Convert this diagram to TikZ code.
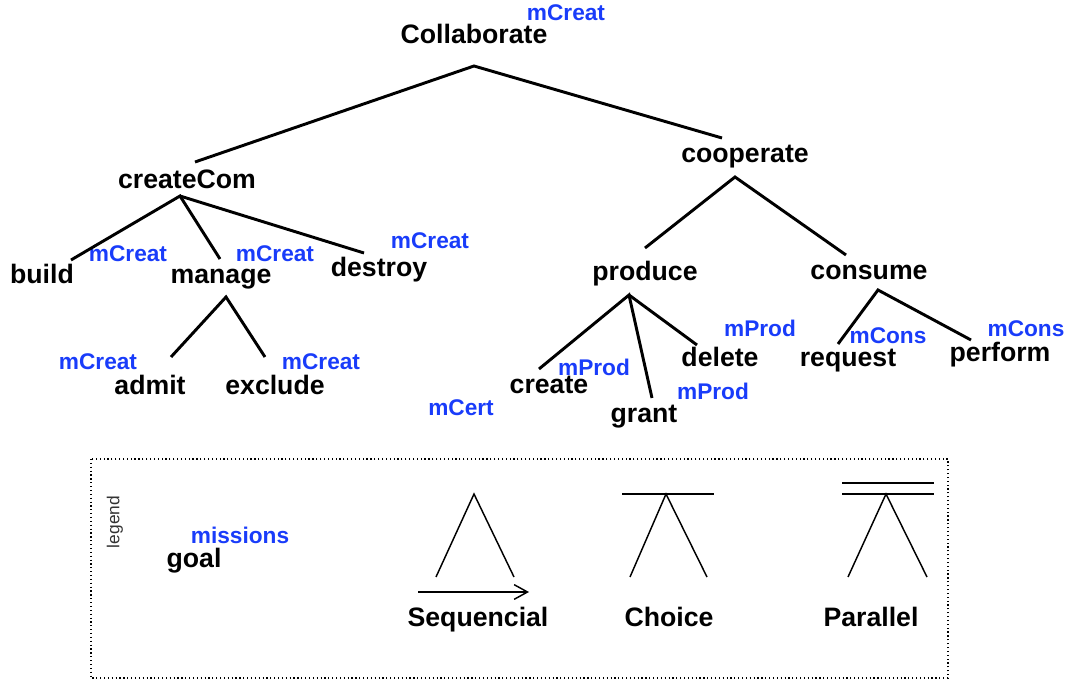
\documentclass[tikz,border=0pt]{standalone}
\usepackage{fontspec}
\setmainfont{Liberation Sans}
\usepackage{tikz}
\usepackage{xcolor}
\usetikzlibrary{positioning}
\usetikzlibrary{arrows.meta}
\definecolor{missionblue}{RGB}{25,60,250}
\tikzstyle{goal} = [anchor=base, inner sep=0pt, font=\fontsize{20}{24}\selectfont\bfseries]
\tikzstyle{mission} = [anchor=base, inner sep=0pt, text=missionblue, font=\fontsize{17}{20}\selectfont\bfseries]
\tikzstyle{link} = [line width=2.2pt]
\tikzstyle{legendline} = [line width=1.1pt]
\tikzstyle{legendbox} = [line width=0.9pt, dotted]
\tikzstyle{seqarrow} = [line width=1.1pt, -{Straight Barb[length=10pt,width=11pt]}]

\begin{document}
\begin{tikzpicture}[x=0.75pt, y=-0.75pt]
    \useasboundingbox (0,0) rectangle (1071,680);

        % goals
        \node (collaborate) [goal] at (474,44) {Collaborate};
        \node (createCom) [goal] at (187,189) {createCom};
        \node (cooperate) [goal] at (745,163) {cooperate};
        \node (build) [goal] at (42,284) {build};
        \node (manage) [goal] at (221,284) {manage};
        \node (destroy) [goal] at (379,277) {destroy};
        \node (admit) [goal] at (150,395) {admit};
        \node (exclude) [goal] at (275,395) {exclude};
        \node (produce) [goal] at (645,281) {produce};
        \node (consume) [goal] at (869,280) {consume};
        \node (create) [goal] at (549,394) {create};
        \node (grant) [goal] at (644,423) {grant};
        \node (delete) [goal] at (720,367) {delete};
        \node (request) [goal] at (848,367) {request};
        \node (perform) [goal] at (1000,362) {perform};

        % missions
        \node (m_collaborate) [mission] at (566,21) {mCreat};
        \node (m_build) [mission] at (128,262) {mCreat};
        \node (m_manage) [mission] at (275,262) {mCreat};
        \node (m_destroy) [mission] at (430,249) {mCreat};
        \node (m_admit) [mission] at (98,370) {mCreat};
        \node (m_exclude) [mission] at (321,370) {mCreat};
        \node (m_cert) [mission] at (461,416) {mCert};
        \node (m_create) [mission] at (594,376) {mProd};
        \node (m_grant) [mission] at (713,400) {mProd};
        \node (m_delete) [mission] at (760,337) {mProd};
        \node (m_request) [mission] at (888,344) {mCons};
        \node (m_perform) [mission] at (1026,337) {mCons};

        % decomposition points
        \coordinate (collaborate_v) at (474,66);
        \coordinate (createCom_v) at (180,196);
        \coordinate (manage_v) at (226,297);
        \coordinate (cooperate_v) at (735,177);
        \coordinate (produce_v) at (629,295);
        \coordinate (consume_v) at (878,290);
        \coordinate (createCom_e) at (195,162);
        \coordinate (cooperate_e) at (722,138);
        \coordinate (build_e) at (71,260);
        \coordinate (manage_e) at (220,259);
        \coordinate (destroy_e) at (364,253);
        \coordinate (admit_e) at (171,357);
        \coordinate (exclude_e) at (265,357);
        \coordinate (produce_e) at (645,248);
        \coordinate (consume_e) at (846,255);
        \coordinate (create_e) at (539,369);
        \coordinate (grant_e) at (652,398);
        \coordinate (delete_e) at (697,345);
        \coordinate (request_e) at (838,344);
        \coordinate (perform_e) at (971,340);

        \draw [link] (createCom_e) -- (collaborate_v) -- (cooperate_e);
        \draw [link] (build_e) -- (createCom_v) -- (manage_e);
        \draw [link] (createCom_v) -- (destroy_e);
        \draw [link] (admit_e) -- (manage_v) -- (exclude_e);
        \draw [link] (produce_e) -- (cooperate_v) -- (consume_e);
        \draw [link] (create_e) -- (produce_v) -- (grant_e);
        \draw [link] (produce_v) -- (delete_e);
        \draw [link] (request_e) -- (consume_v) -- (perform_e);

        % legend
        \draw [legendbox] (91,459) rectangle (948,678);
        \node (legend) [rotate=90, inner sep=0pt, text=black!80, font=\fontsize{13}{15}\selectfont] at (115,522) {legend};
        \node (l_mission) [mission] at (240,543) {missions};
        \node (l_goal) [goal] at (194,567) {goal};

        \node (sequencial) [goal] at (478,626) {Sequencial};
        \node (choice) [goal] at (669,626) {Choice};
        \node (parallel) [goal] at (871,626) {Parallel};

        \coordinate (seq_v) at (474,494);
        \coordinate (seq_l) at (436,577);
        \coordinate (seq_r) at (514,577);
        \coordinate (seq_a) at (418,592);
        \coordinate (seq_b) at (529,592);
        \draw [legendline] (seq_l) -- (seq_v) -- (seq_r);
        \draw [seqarrow] (seq_a) -- (seq_b);

        \coordinate (cho_v) at (666,494);
        \coordinate (cho_l) at (630,577);
        \coordinate (cho_r) at (707,577);
        \coordinate (cho_a) at (622,494);
        \coordinate (cho_b) at (714,494);
        \draw [legendline] (cho_l) -- (cho_v) -- (cho_r);
        \draw [legendline] (cho_a) -- (cho_b);

        \coordinate (par_v) at (886,494);
        \coordinate (par_l) at (848,577);
        \coordinate (par_r) at (927,577);
        \coordinate (par_a) at (842,494);
        \coordinate (par_b) at (934,494);
        \coordinate (par_c) at (842,483);
        \coordinate (par_d) at (934,483);
        \draw [legendline] (par_l) -- (par_v) -- (par_r);
        \draw [legendline] (par_a) -- (par_b);
        \draw [legendline] (par_c) -- (par_d);
    \end{tikzpicture}
\end{document}
